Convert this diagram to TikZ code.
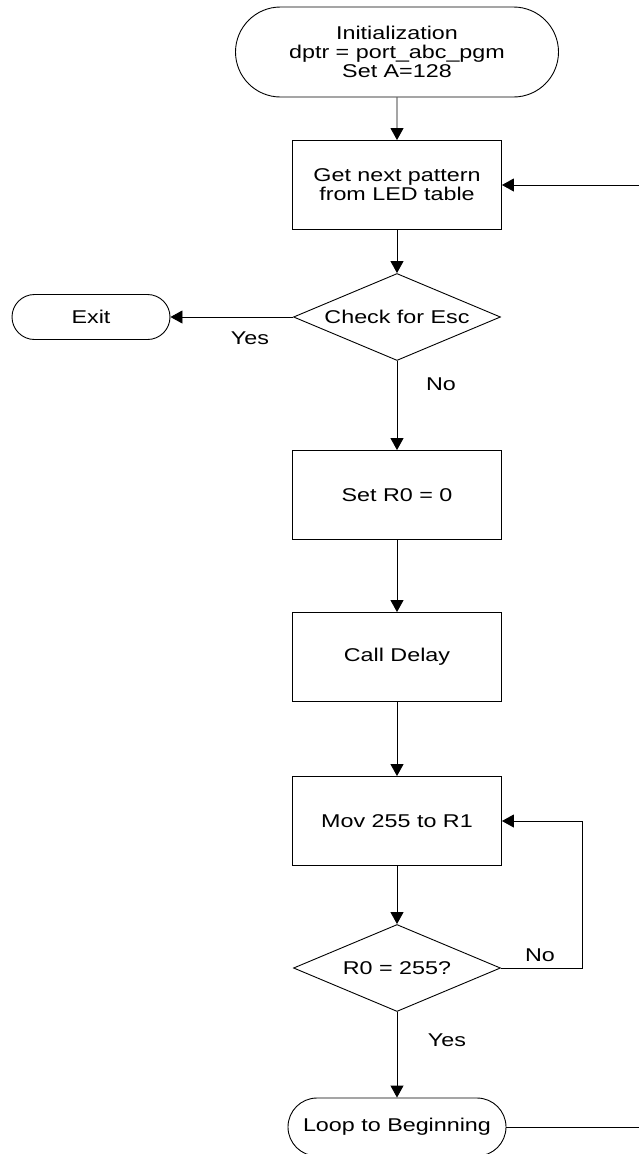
\documentclass[tikz,border=0pt]{standalone}
\usepackage{fontspec}
\setmainfont{Liberation Sans}[FakeStretch=1.26]
\usetikzlibrary{arrows.meta,shapes.geometric,shapes.misc}

\begin{document}
\begin{tikzpicture}[x=1pt,y=-1pt,
  every node/.style={font=\fontsize{18.5}{19}\selectfont, align=center, inner sep=0pt},
  flow/.style={draw, line width=0.9pt},
  terminal/.style={flow, rounded rectangle},
  process/.style={flow, rectangle, minimum width=209pt, minimum height=89pt},
  decision/.style={flow, diamond, aspect=2.4, minimum width=207pt, minimum height=87pt},
  link/.style={line width=0.9pt, -{Triangle[length=12pt,width=13pt]}},
  wire/.style={line width=0.9pt}
]
\useasboundingbox (0,0) rectangle (639,1154);

% main column
\node[terminal, minimum width=323pt, minimum height=90pt] (init) at (397,52)
  {Initialization\\dptr = port\_abc\_pgm\\Set A=128};
\node[process] (get) at (397,185) {Get next pattern\\from LED table};
\node[decision] (esc) at (397,317) {Check for Esc};
\node[terminal, minimum width=158pt, minimum height=45pt] (exit) at (91,317) {Exit};
\node[process] (setr) at (397,495) {Set R0 = 0};
\node[process] (delay) at (397,657) {Call Delay};
\node[process] (mov) at (397,821) {Mov 255 to R1};
\node[decision] (r0) at (397,968) {R0 = 255?};
\node[terminal, minimum width=218pt, minimum height=58pt] (loop) at (397,1127) {Loop to Beginning};

% branch labels
\node (yesesc) at (250,338) {Yes};
\node (noesc) at (441,384) {No};
\node (nor0) at (540,955) {No};
\node (yesr0) at (447,1040) {Yes};

% corners of the return paths
\coordinate (nocorner) at (582,968);
\coordinate (backcorner) at (645,1127);

% connectors
\draw[link] (init) -- (get);
\draw[link] (get) -- (esc);
\draw[link] (esc.west) -- (exit.east);
\draw[link] (esc) -- (setr);
\draw[link] (setr) -- (delay);
\draw[link] (delay) -- (mov);
\draw[link] (mov) -- (r0);
\draw[link] (r0) -- (loop);
\draw[link] (r0.east) -- (nocorner) |- (mov.east);
\draw[link] (loop.east) -- (backcorner) |- (get.east);
\end{tikzpicture}
\end{document}
